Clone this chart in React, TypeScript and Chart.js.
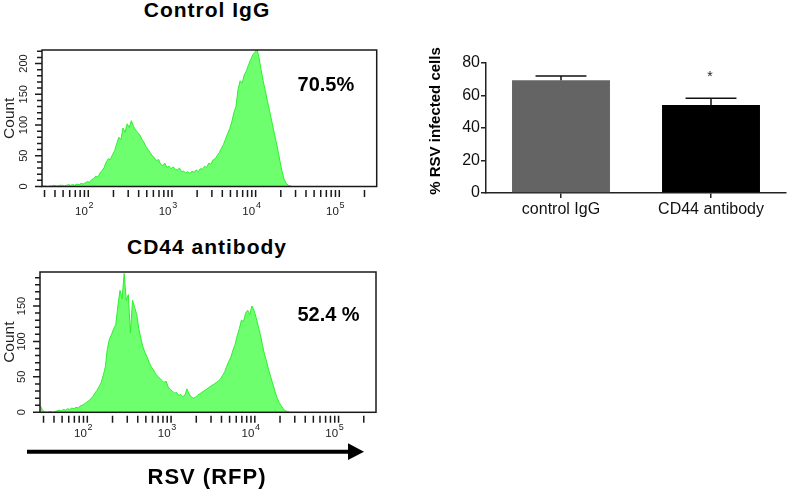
import React, { useEffect, useRef } from 'react';
import { Chart, registerables } from 'chart.js';

Chart.register(...registerables);

const FONT = 'Arial, "Liberation Sans", Helvetica, sans-serif';
Chart.defaults.font.family = FONT;

// Histogram channel grid: log10(RFP intensity) of the first channel and channel width
const BIN_START = 1.44;
const BIN_WIDTH = 0.025;

// Counts per channel
const controlIgGCounts = [
  0, 1, 1, 0, 1, 1, 2, 1, 1, 2,
  2, 1, 2, 3, 2, 3, 2, 4, 3, 5,
  4, 6, 8, 7, 11, 13, 17, 15, 22, 26,
  31, 40, 45, 44, 52, 58, 70, 80, 76, 95,
  88, 102, 96, 107, 98, 92, 88, 84, 77, 72,
  65, 60, 55, 50, 47, 42, 44, 36, 34, 38,
  31, 33, 29, 32, 28, 27, 30, 24, 25, 22,
  24, 21, 25, 23, 27, 24, 29, 28, 33, 31,
  38, 36, 43, 45, 50, 55, 62, 68, 77, 86,
  94, 105, 120, 130, 158, 172, 168, 182, 188, 198,
  206, 214, 218, 224, 210, 190, 172, 156, 140, 124,
  108, 92, 76, 60, 42, 25, 12, 5, 2, 1,
  0, 0, 0, 0, 0,
];

// Counts per channel
const cd44AntibodyCounts = [
  9, 3, 1, 0, 1, 1, 0, 1, 2, 3,
  2, 4, 3, 5, 4, 6, 5, 7, 6, 9,
  10, 12, 14, 16, 19, 22, 27, 31, 36, 42,
  52, 64, 90, 104, 110, 118, 124, 150, 172, 160,
  196, 158, 166, 112, 158, 148, 138, 118, 104, 92,
  84, 78, 70, 64, 60, 54, 51, 48, 45, 42,
  44, 36, 32, 30, 27, 28, 24, 25, 22, 24,
  33, 26, 22, 20, 21, 24, 26, 28, 30, 32,
  34, 36, 38, 40, 42, 44, 47, 52, 57, 65,
  72, 78, 88, 96, 108, 118, 130, 128, 140, 144,
  138, 150, 144, 134, 122, 110, 96, 82, 72, 60,
  50, 40, 30, 21, 14, 9, 5, 2, 1, 0,
  0, 0, 0, 0, 0,
];

const decadeExponents = [2, 3, 4, 5];
const countMajorTicks = [0, 50, 100, 150, 200];
const histogramTitles = ['Control IgG', 'CD44 antibody'];
const infectedPercentLabels = ['70.5%', '52.4 %'];
const countAxisTitle = 'Count';
const xAxisTitle = 'RSV (RFP)';

const barCategories = ['control IgG', 'CD44 antibody'];
const barMeans = [69.4, 54.2];
const barErrorUpper = [72.0, 58.3];
const barSignificance = ['', '*'];
const barTicks = [0, 20, 40, 60, 80];
const barColors = ['#646464', '#000000'];
const barAxisTitle = '% RSV infected cells';

const histDecor = {
  id: 'histDecor',
  afterDraw(chart: any, _args: any, o: any) {
    const { ctx, chartArea: a } = chart;
    const xs = chart.scales.x;
    const ys = chart.scales.y;
    ctx.save();
    ctx.strokeStyle = '#1a1a1a';
    ctx.lineWidth = 1.5;
    ctx.strokeRect(a.left, a.top, a.right - a.left, a.bottom - a.top);
    ctx.lineWidth = 1.5;
    ctx.beginPath();
    xs.ticks.forEach((t: any) => {
      const px = xs.getPixelForValue(t.value);
      ctx.moveTo(px, a.bottom + 3.5);
      ctx.lineTo(px, a.bottom + 10.5);
    });
    ys.ticks.forEach((t: any) => {
      const py = ys.getPixelForValue(t.value);
      const len = t.value % 50 === 0 ? 7 : 5;
      ctx.moveTo(a.left - len, py);
      ctx.lineTo(a.left, py);
    });
    ctx.stroke();

    ctx.fillStyle = '#222';
    decadeExponents.forEach((e) => {
      const px = xs.getPixelForValue(e);
      ctx.font = `11.5px ${FONT}`;
      ctx.textAlign = 'right';
      ctx.textBaseline = 'alphabetic';
      ctx.fillText('10', px - 0.5, a.bottom + o.labelBase);
      ctx.font = `9px ${FONT}`;
      ctx.textAlign = 'left';
      ctx.fillText(String(e), px + 0.3, a.bottom + o.labelBase - 7);
    });

    ctx.font = `11px ${FONT}`;
    ctx.textAlign = 'center';
    ctx.textBaseline = 'middle';
    countMajorTicks.forEach((v) => {
      if (v > ys.max) return;
      const py = ys.getPixelForValue(v);
      ctx.save();
      ctx.translate(a.left - 18, py);
      ctx.rotate(-Math.PI / 2);
      ctx.fillText(String(v), 0, 0);
      ctx.restore();
    });

    ctx.font = `15.5px ${FONT}`;
    ctx.save();
    ctx.translate(10, (a.top + a.bottom) / 2);
    ctx.rotate(-Math.PI / 2);
    ctx.fillText(countAxisTitle, 0, 0);
    ctx.restore();

    ctx.font = `bold 20px ${FONT}`;
    ctx.fillStyle = '#000';
    ctx.fillText(o.pctText, xs.getPixelForValue(o.pctX), ys.getPixelForValue(o.pctY));
    ctx.restore();
  },
};

function makeHistogram(canvas: HTMLCanvasElement, cfg: any) {
  const points = cfg.counts.map((c: number, i: number) => ({ x: BIN_START + i * BIN_WIDTH, y: c }));
  return new Chart(canvas, {
    type: 'line',
    data: {
      datasets: [
        {
          data: points,
          fill: 'origin',
          backgroundColor: '#6dff6d',
          borderColor: '#2eef2e',
          borderWidth: 1,
          pointRadius: 0,
          tension: 0,
        },
      ],
    },
    options: {
      responsive: false,
      animation: false,
      maintainAspectRatio: false,
      layout: { padding: { top: 10, right: cfg.padRight, left: 0, bottom: 0 } },
      plugins: {
        legend: { display: false },
        tooltip: { enabled: false },
        histDecor: { labelBase: cfg.labelBase, pctText: cfg.pctText, pctX: cfg.pctX, pctY: cfg.pctY },
      } as any,
      scales: {
        x: {
          type: 'linear',
          min: cfg.xMin,
          max: cfg.xMax,
          bounds: 'data',
          grid: { display: false },
          border: { display: false },
          ticks: { display: false },
          afterBuildTicks: (s: any) => {
            const t: any[] = [];
            for (let d = 1; d <= 6; d++) {
              for (let m = 1; m <= 9; m++) {
                const v = d + Math.log10(m);
                if (v >= s.min - 1e-9 && v <= s.max + 1e-9) t.push({ value: v });
              }
            }
            s.ticks = t;
          },
          afterFit: (s: any) => {
            s.height = cfg.xAxisHeight;
          },
        },
        y: {
          type: 'linear',
          min: 0,
          max: cfg.yMax,
          bounds: 'data',
          grid: { display: false },
          border: { display: false },
          ticks: { display: false },
          afterBuildTicks: (s: any) => {
            const t: any[] = [];
            for (let v = 0; v <= s.max; v += 10) t.push({ value: v });
            s.ticks = t;
          },
          afterFit: (s: any) => {
            s.width = cfg.yAxisWidth;
          },
        },
      },
    },
    plugins: [histDecor],
  });
}

const barDecor = {
  id: 'barDecor',
  afterDatasetsDraw(chart: any) {
    const { ctx } = chart;
    const ys = chart.scales.y;
    const meta = chart.getDatasetMeta(0);
    ctx.save();
    ctx.strokeStyle = '#111';
    ctx.lineWidth = 1.5;
    meta.data.forEach((bar: any, i: number) => {
      const x = bar.x;
      const yTop = ys.getPixelForValue(barErrorUpper[i]);
      const half = bar.width * 0.26;
      ctx.beginPath();
      ctx.moveTo(x, bar.y);
      ctx.lineTo(x, yTop);
      ctx.moveTo(x - half, yTop);
      ctx.lineTo(x + half, yTop);
      ctx.stroke();
      if (barSignificance[i]) {
        ctx.fillStyle = '#222';
        ctx.font = `14px ${FONT}`;
        ctx.textAlign = 'center';
        ctx.textBaseline = 'alphabetic';
        ctx.fillText(barSignificance[i], x - 1, yTop - 17.5);
      }
    });
    ctx.font = `bold 15px ${FONT}`;
    ctx.fillStyle = '#000';
    ctx.textAlign = 'center';
    ctx.textBaseline = 'middle';
    ctx.translate(36, 81);
    ctx.rotate(-Math.PI / 2);
    ctx.fillText(barAxisTitle, 0, 0);
    ctx.restore();
  },
};

function makeBarChart(canvas: HTMLCanvasElement) {
  return new Chart(canvas, {
    type: 'bar',
    data: {
      labels: barCategories,
      datasets: [
        {
          data: barMeans,
          backgroundColor: barColors,
          borderWidth: 0,
          barPercentage: 0.653,
          categoryPercentage: 1,
        },
      ],
    },
    options: {
      responsive: false,
      animation: false,
      maintainAspectRatio: false,
      layout: { padding: { top: 23, right: 1, left: 0, bottom: 0 } },
      plugins: { legend: { display: false }, tooltip: { enabled: false } },
      scales: {
        x: {
          grid: { display: true, drawOnChartArea: false, offset: false, drawTicks: true, tickLength: 5, color: '#222', lineWidth: 1.5 },
          border: { display: true, color: '#222', width: 1.5 },
          ticks: { color: '#111', font: { size: 16, family: FONT }, padding: 2, maxRotation: 0, autoSkip: false },
          afterFit: (s: any) => {
            s.height = 37;
          },
        },
        y: {
          min: 0,
          max: 80,
          grid: { display: true, drawOnChartArea: false, drawTicks: true, tickLength: 5, color: '#222', lineWidth: 1.5 },
          border: { display: true, color: '#222', width: 1.5 },
          ticks: { color: '#111', font: { size: 16, family: FONT }, padding: 1 },
          afterBuildTicks: (s: any) => {
            s.ticks = barTicks.map((v) => ({ value: v }));
          },
          afterFit: (s: any) => {
            s.width = 86;
          },
        },
      },
    },
    plugins: [barDecor],
  });
}

export default function App() {
  const topRef = useRef<HTMLCanvasElement>(null);
  const botRef = useRef<HTMLCanvasElement>(null);
  const barRef = useRef<HTMLCanvasElement>(null);

  useEffect(() => {
    const charts: Chart[] = [];
    if (topRef.current) {
      charts.push(
        makeHistogram(topRef.current, {
          counts: controlIgGCounts,
          xMin: 1.447,
          xMax: 5.447,
          yMax: 222,
          padRight: 13.3,
          yAxisWidth: 42,
          xAxisHeight: 33.5,
          labelBase: 28.5,
          pctText: infectedPercentLabels[0],
          pctX: 4.84,
          pctY: 165,
        })
      );
    }
    if (botRef.current) {
      charts.push(
        makeHistogram(botRef.current, {
          counts: cd44AntibodyCounts,
          xMin: 1.435,
          xMax: 5.447,
          yMax: 198,
          padRight: 14,
          yAxisWidth: 40,
          xAxisHeight: 29.7,
          labelBase: 24.4,
          pctText: infectedPercentLabels[1],
          pctX: 4.88,
          pctY: 136,
        })
      );
    }
    if (barRef.current) charts.push(makeBarChart(barRef.current));
    return () => charts.forEach((c) => c.destroy());
  }, []);

  const titleStyle: React.CSSProperties = {
    position: 'absolute',
    left: 0,
    width: 414,
    textAlign: 'center',
    fontFamily: FONT,
    fontWeight: 'bold',
    fontSize: 21,
    lineHeight: '24px',
    letterSpacing: 1,
    color: '#000',
    whiteSpace: 'nowrap',
  };

  return (
    <div style={{ position: 'absolute', left: 0, top: 0, width: 787, height: 497, background: '#fff', overflow: 'hidden' }}>
      <div style={{ ...titleStyle, top: -2 }}>{histogramTitles[0]}</div>
      <canvas ref={topRef} width={390} height={180} style={{ position: 'absolute', left: 0, top: 40, display: 'block' }} />
      <div style={{ ...titleStyle, top: 235 }}>{histogramTitles[1]}</div>
      <canvas ref={botRef} width={390} height={180} style={{ position: 'absolute', left: 0, top: 262, display: 'block' }} />
      <svg width={380} height={25} style={{ position: 'absolute', left: 0, top: 440 }}>
        <line x1={27} y1={11.7} x2={350} y2={11.7} stroke="#000" strokeWidth={4} />
        <polygon points="348,3.3 364,11.7 348,20" fill="#000" />
      </svg>
      <div style={{ ...titleStyle, top: 464, fontSize: 22, lineHeight: '26px' }}>{xAxisTitle}</div>
      <canvas ref={barRef} width={387} height={190} style={{ position: 'absolute', left: 400, top: 40, display: 'block' }} />
    </div>
  );
}
